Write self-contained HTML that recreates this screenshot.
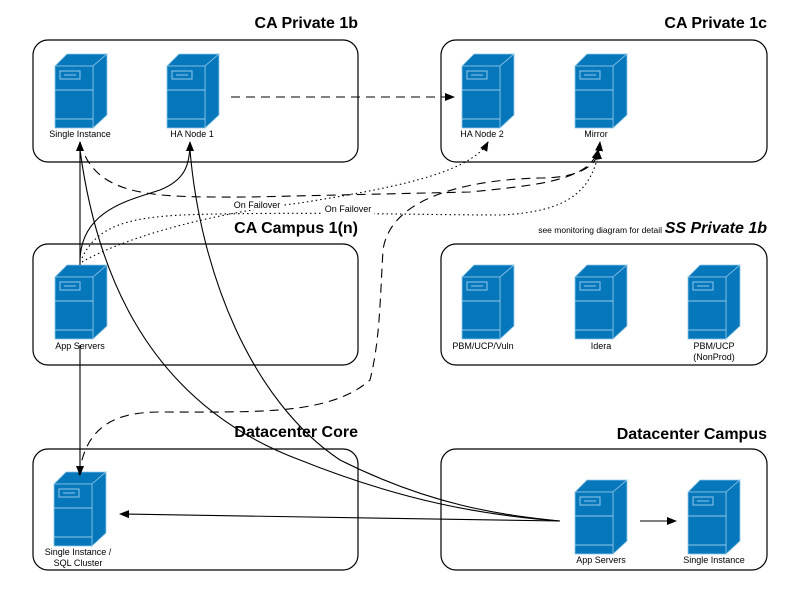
<!DOCTYPE html>
<html><head><meta charset="utf-8"><style>
html,body{margin:0;padding:0;background:#fff;}
svg{display:block;font-family:"Liberation Sans",sans-serif;}
.t{font-weight:bold;font-size:16px;text-anchor:end;}
.l{font-size:9px;text-anchor:middle;}
</style></head><body>
<svg width="800" height="593" viewBox="0 0 800 593" xmlns="http://www.w3.org/2000/svg">
<defs>
<g id="srv">
<polygon points="0,12 12,0 52,0 38,12" fill="#0777bb" stroke="#8fc7e8" stroke-width="0.8"/>
<polygon points="38,12 52,0 52,61 38,74" fill="#0777bb" stroke="#8fc7e8" stroke-width="0.8"/>
<rect x="0" y="12" width="38" height="62" fill="#0777bb" stroke="#8fc7e8" stroke-width="0.8"/>
<line x1="0" y1="36" x2="38" y2="36" stroke="#8fc7e8"/>
<line x1="0" y1="65" x2="38" y2="65" stroke="#8fc7e8"/>
<rect x="5" y="17" width="20" height="8" fill="none" stroke="#8fc7e8"/>
<line x1="9" y1="21" x2="21" y2="21" stroke="#8fc7e8"/>
</g>
<marker id="a" markerWidth="10" markerHeight="8" refX="9" refY="4" orient="auto" markerUnits="userSpaceOnUse"><path d="M0,0 L10,4 L0,8 z" fill="#000"/></marker>
</defs>
<g fill="none" stroke="#000" stroke-width="1.2">
<rect x="33" y="40" width="325" height="122" rx="15"/>
<rect x="441" y="40" width="326" height="122" rx="15"/>
<rect x="33" y="244" width="325" height="121" rx="15"/>
<rect x="441" y="244" width="326" height="121" rx="15"/>
<rect x="33" y="449" width="325" height="121" rx="15"/>
<rect x="441" y="449" width="326" height="121" rx="15"/>
</g>
<text class="t" x="358" y="28">CA Private 1b</text>
<text class="t" x="767" y="28">CA Private 1c</text>
<text class="t" x="358" y="233">CA Campus 1(n)</text>
<text class="t" x="767" y="233" font-style="italic">SS Private 1b</text>
<text x="662" y="233" font-size="8.5" text-anchor="end">see monitoring diagram for detail</text>
<text class="t" x="358" y="437">Datacenter Core</text>
<text class="t" x="767" y="439">Datacenter Campus</text>

<use href="#srv" x="55" y="54"/><text class="l" x="80" y="137">Single Instance</text>
<use href="#srv" x="167" y="54"/><text class="l" x="192" y="137">HA Node 1</text>
<use href="#srv" x="462" y="54"/><text class="l" x="482" y="137">HA Node 2</text>
<use href="#srv" x="575" y="54"/><text class="l" x="596" y="137">Mirror</text>
<use href="#srv" x="55" y="265"/><text class="l" x="80" y="349">App Servers</text>
<use href="#srv" x="462" y="265"/><text class="l" x="483" y="349">PBM/UCP/Vuln</text>
<use href="#srv" x="575" y="265"/><text class="l" x="601" y="349">Idera</text>
<use href="#srv" x="688" y="265"/><text class="l" x="714" y="349">PBM/UCP</text><text class="l" x="714" y="360">(NonProd)</text>
<use href="#srv" x="54" y="472"/><text class="l" x="78" y="555">Single Instance /</text><text class="l" x="78" y="566">SQL Cluster</text>
<use href="#srv" x="575" y="480"/><text class="l" x="601" y="563">App Servers</text>
<use href="#srv" x="688" y="480"/><text class="l" x="714" y="563">Single Instance</text>

<g fill="none" stroke="#000" stroke-width="1.1">
<path d="M231,97 L454,97" stroke-dasharray="9,6" marker-end="url(#a)"/>
<path d="M80,265 L80,142" marker-end="url(#a)"/>
<path d="M80,345 L80,475" marker-end="url(#a)"/>
<path d="M80,262 C80,210 130,200 160,190 C185,180 190,165 190,142" marker-end="url(#a)"/>
<path d="M80,142 C95,200 160,197 250,197 L470,192 C540,185 590,180 598,150" stroke-dasharray="9,6" marker-end="url(#a)"/>
<path d="M79,475 C85,430 110,412 160,412 C260,412 330,415 370,380 C380,340 380,300 383,250 C390,200 460,180 540,178 C580,178 598,165 598,150" stroke-dasharray="9,6" marker-end="url(#a)"/>
<path d="M82,262 C120,240 200,215 300,203 C380,190 470,175 488,142" stroke-dasharray="1.5,3" marker-end="url(#a)"/>
<path d="M82,258 C100,220 140,215 220,214 C330,212 430,215 500,215 C570,212 595,190 600,142" stroke-dasharray="1.5,3" marker-end="url(#a)"/>
<path d="M80,150 C95,260 140,400 300,460 C400,500 480,515 560,521"/>
<path d="M190,150 C200,270 250,400 340,460 C430,505 500,515 560,521"/>
<path d="M560,521 L120,514" marker-end="url(#a)"/>
<path d="M640,521 L676,521" marker-end="url(#a)"/>
</g>
<rect x="231" y="198" width="52" height="12" fill="#fff"/>
<text x="257" y="208" font-size="9" text-anchor="middle">On Failover</text>
<rect x="322" y="203" width="52" height="12" fill="#fff"/>
<text x="348" y="212" font-size="9" text-anchor="middle">On Failover</text>
</svg>
</body></html>
